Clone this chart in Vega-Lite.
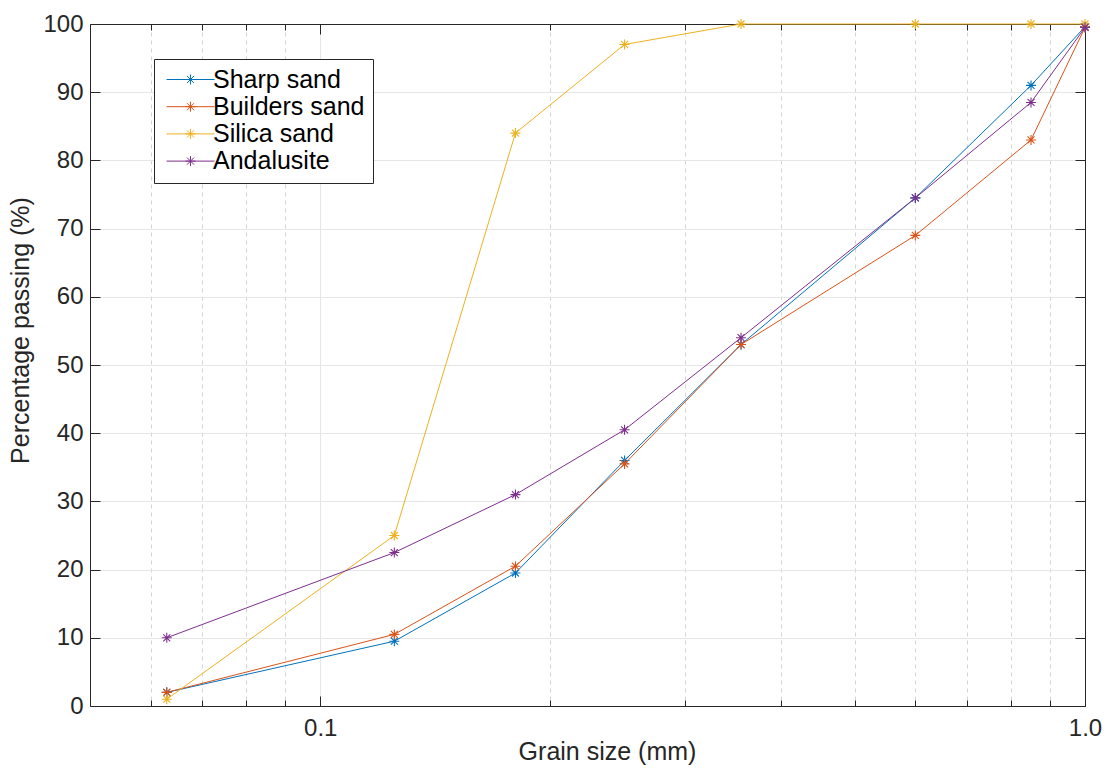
{
  "$schema": "https://vega.github.io/schema/vega-lite/v6.json",
  "width": 995,
  "height": 682,
  "autosize": {"type": "none"},
  "padding": {"left": 90, "top": 24, "right": 32, "bottom": 67},
  "background": "white",
  "config": {
    "view": {"stroke": null},
    "font": "Liberation Sans",
    "axis": {
      "domainColor": "#262626",
      "domainWidth": 1,
      "tickColor": "#262626",
      "tickWidth": 1,
      "labelColor": "#262626",
      "labelFont": "Liberation Sans",
      "labelFontSize": 24,
      "titleFont": "Liberation Sans",
      "titleFontSize": 25,
      "titleFontWeight": "normal",
      "titleColor": "#262626",
      "labelOverlap": false,
      "labelFlush": false
    }
  },
  "data": {
    "values": [
      {"size": 0.063, "pct": 2, "material": "Sharp sand"},
      {"size": 0.125, "pct": 9.5, "material": "Sharp sand"},
      {"size": 0.18, "pct": 19.5, "material": "Sharp sand"},
      {"size": 0.25, "pct": 36, "material": "Sharp sand"},
      {"size": 0.355, "pct": 53, "material": "Sharp sand"},
      {"size": 0.6, "pct": 74.5, "material": "Sharp sand"},
      {"size": 0.85, "pct": 91, "material": "Sharp sand"},
      {"size": 1.0, "pct": 99.6, "material": "Sharp sand"},
      {"size": 0.063, "pct": 2, "material": "Builders sand"},
      {"size": 0.125, "pct": 10.5, "material": "Builders sand"},
      {"size": 0.18, "pct": 20.5, "material": "Builders sand"},
      {"size": 0.25, "pct": 35.5, "material": "Builders sand"},
      {"size": 0.355, "pct": 53, "material": "Builders sand"},
      {"size": 0.6, "pct": 69, "material": "Builders sand"},
      {"size": 0.85, "pct": 83, "material": "Builders sand"},
      {"size": 1.0, "pct": 99.5, "material": "Builders sand"},
      {"size": 0.063, "pct": 1, "material": "Silica sand"},
      {"size": 0.125, "pct": 25, "material": "Silica sand"},
      {"size": 0.18, "pct": 84, "material": "Silica sand"},
      {"size": 0.25, "pct": 97, "material": "Silica sand"},
      {"size": 0.355, "pct": 100, "material": "Silica sand"},
      {"size": 0.6, "pct": 100, "material": "Silica sand"},
      {"size": 0.85, "pct": 100, "material": "Silica sand"},
      {"size": 1.0, "pct": 100, "material": "Silica sand"},
      {"size": 0.063, "pct": 10, "material": "Andalusite"},
      {"size": 0.125, "pct": 22.5, "material": "Andalusite"},
      {"size": 0.18, "pct": 31, "material": "Andalusite"},
      {"size": 0.25, "pct": 40.5, "material": "Andalusite"},
      {"size": 0.355, "pct": 54, "material": "Andalusite"},
      {"size": 0.6, "pct": 74.5, "material": "Andalusite"},
      {"size": 0.85, "pct": 88.5, "material": "Andalusite"},
      {"size": 1.0, "pct": 99.5, "material": "Andalusite"}
    ]
  },
  "encoding": {
    "color": {
      "field": "material",
      "type": "nominal",
      "scale": {
        "domain": ["Sharp sand", "Builders sand", "Silica sand", "Andalusite"],
        "range": ["#0072BD", "#D95319", "#EDB120", "#7E2F8E"]
      },
      "legend": {
        "orient": "none",
        "legendX": 64,
        "legendY": 35,
        "title": null,
        "symbolType": "M-1.33,0L6.67,0M1.84,0L3.5,0M2.67,-0.83L2.67,0.83M2.08,-0.59L3.26,0.59M2.08,0.59L3.26,-0.59",
        "symbolSize": 144,
        "symbolStrokeWidth": 1,
        "symbolFillColor": "transparent",
        "labelOffset": 26,
        "labelFontSize": 25,
        "labelFont": "Liberation Sans",
        "labelColor": "#000000",
        "strokeColor": "#262626",
        "fillColor": "#ffffff",
        "padding": 8,
        "rowPadding": 1.2,
        "labelLimit": 400
      }
    }
  },
  "layer": [
    {
      "mark": {"type": "line", "strokeWidth": 1, "clip": false},
      "encoding": {
        "x": {
          "field": "size",
          "type": "quantitative",
          "scale": {"type": "log", "domain": [0.05, 1], "nice": false},
          "axis": {
            "orient": "bottom",
            "title": "Grain size (mm)",
            "titlePadding": -5,
            "titleX": 517,
            "values": [0.06, 0.07, 0.08, 0.09, 0.1, 0.2, 0.3, 0.4, 0.5, 0.6, 0.7, 0.8, 0.9, 1],
            "labelExpr": "datum.value == 0.1 || datum.value == 1 ? format(datum.value, '.1f') : ''",
            "tickSize": {"condition": {"test": "datum.value == 0.1 || datum.value == 1", "value": -10}, "value": -6},
            "labelPadding": 20,
            "grid": true,
            "gridColor": {"condition": {"test": "datum.value == 0.1 || datum.value == 1", "value": "#e6e6e6"}, "value": "#d4d4d4"},
            "gridDash": {"condition": {"test": "datum.value == 0.1 || datum.value == 1", "value": []}, "value": [4, 4]},
            "gridWidth": 1
          }
        },
        "y": {
          "field": "pct",
          "type": "quantitative",
          "scale": {"domain": [0, 100], "nice": false},
          "axis": {
            "orient": "left",
            "title": "Percentage passing (%)",
            "titlePadding": 9,
            "titleY": 306,
            "values": [0, 10, 20, 30, 40, 50, 60, 70, 80, 90, 100],
            "tickSize": -10,
            "labelPadding": 17,
            "grid": true,
            "gridColor": "#e6e6e6",
            "gridWidth": 1
          }
        }
      }
    },
    {
      "mark": {
        "type": "point",
        "shape": "M-1,0L1,0M0,-1L0,1M-0.7,-0.7L0.7,0.7M-0.7,0.7L0.7,-0.7",
        "filled": false,
        "size": 100,
        "strokeWidth": 1.1,
        "opacity": 1,
        "clip": false
      },
      "encoding": {
        "x": {
          "field": "size",
          "type": "quantitative",
          "scale": {"type": "log", "domain": [0.05, 1], "nice": false},
          "axis": {
            "orient": "top",
            "title": null,
            "values": [0.06, 0.07, 0.08, 0.09, 0.1, 0.2, 0.3, 0.4, 0.5, 0.6, 0.7, 0.8, 0.9, 1],
            "labels": false,
            "grid": false,
            "tickSize": {"condition": {"test": "datum.value == 0.1 || datum.value == 1", "value": -10}, "value": -6}
          }
        },
        "y": {
          "field": "pct",
          "type": "quantitative",
          "scale": {"domain": [0, 100], "nice": false},
          "axis": {
            "orient": "right",
            "title": null,
            "values": [0, 10, 20, 30, 40, 50, 60, 70, 80, 90, 100],
            "labels": false,
            "grid": false,
            "tickSize": -10
          }
        }
      }
    }
  ],
  "resolve": {"axis": {"x": "independent", "y": "independent"}}
}
